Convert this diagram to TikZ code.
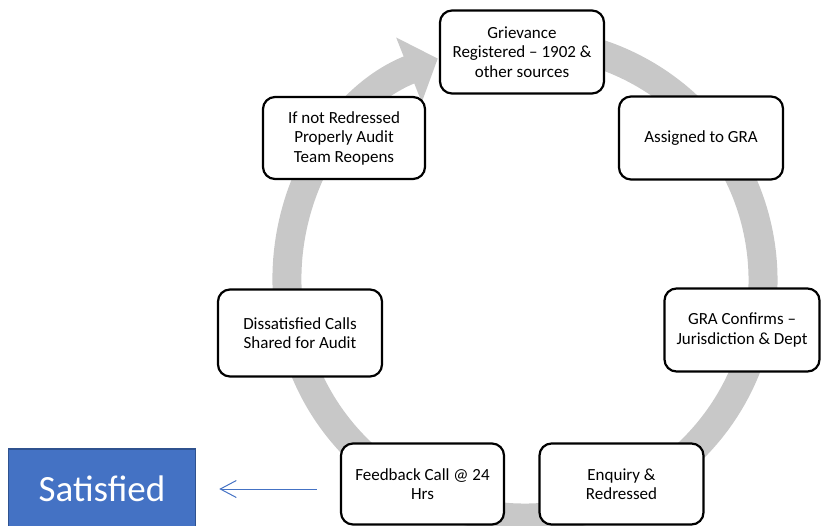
\documentclass[tikz,border=0pt]{standalone}
\usepackage{fontspec}
\setmainfont{Carlito}
\usepackage{tikz}
\usetikzlibrary{arrows.meta}
\definecolor{ringgray}{RGB}{200, 200, 200}
\definecolor{satblue}{RGB}{68, 114, 196}
\definecolor{satedge}{RGB}{47, 82, 143}

\begin{document}
\begin{tikzpicture}[x=1pt, y=1pt,
  stage/.style={draw, line width=2.2pt, rounded corners=12pt, fill=white, align=center,
    minimum width=164pt, minimum height=83pt, inner sep=2pt, font=\fontsize{17}{19.5}\selectfont},
  outcome/.style={draw=satedge, fill=satblue, line width=1.5pt, text=white,
    minimum width=187pt, minimum height=80pt, font=\fontsize{37}{40}\selectfont}]
  \clip (0,0) rectangle (821,-525);
  % grey cycle behind the stages
  \draw[ringgray, line width=29pt, -{Triangle[length=31pt, width=68pt]}]
    (525,-280) ++(100:238) arc (100:-248.5:238);
  % stages of the cycle
  \node[stage] (griev) at (522,-52) {Grievance\\Registered -- 1902 \&\\other sources};
  \node[stage] (assign) at (701,-138) {Assigned to GRA};
  \node[stage, minimum width=155pt] (confirm) at (742,-330) {GRA Confirms --\\Jurisdiction \& Dept};
  \node[stage, minimum height=81pt] (enquiry) at (621.5,-484) {Enquiry \&\\Redressed};
  \node[stage, minimum height=81pt, minimum width=163pt] (feedback) at (422.5,-484) {Feedback Call @ 24\\Hrs};
  \node[stage, minimum height=87pt] (dissat) at (300,-333) {Dissatisfied Calls\\Shared for Audit};
  \node[stage, minimum width=162pt, minimum height=82pt] (reopen) at (344,-138) {If not Redressed\\Properly Audit\\Team Reopens};
  % satisfied callers leave the cycle
  \node[outcome] (satisfied) at (102,-489) {Satisfied};
  \draw[satblue, line width=1pt, -{Straight Barb[length=16pt, width=17pt]}, shorten <=23pt, shorten >=23pt]
    (satisfied.east -| feedback.west) -- (satisfied.east);
\end{tikzpicture}
\end{document}
